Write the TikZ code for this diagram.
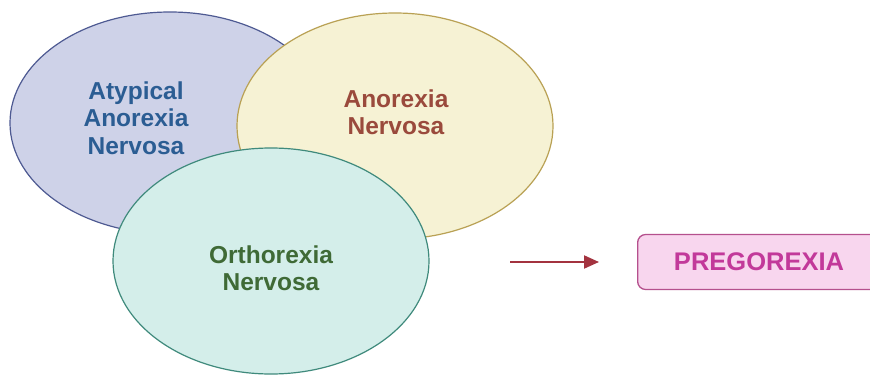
\documentclass[tikz,border=0pt]{standalone}
\usepackage{fontspec}
\setmainfont{Liberation Sans}
\usetikzlibrary{arrows.meta,shapes.geometric}
\definecolor{lavfill}{HTML}{CED2E8}
\definecolor{lavdraw}{HTML}{4E5A92}
\definecolor{yelfill}{HTML}{F6F2D4}
\definecolor{yeldraw}{HTML}{B9A154}
\definecolor{grnfill}{HTML}{D4EEEA}
\definecolor{grndraw}{HTML}{3F8A7C}
\definecolor{bluetxt}{HTML}{2B5D93}
\definecolor{browntxt}{HTML}{9A4A3C}
\definecolor{greentxt}{HTML}{3F6A36}
\definecolor{arrowred}{HTML}{A3333F}
\definecolor{pinkfill}{HTML}{F8D6EE}
\definecolor{pinkdraw}{HTML}{B5508D}
\definecolor{pinktxt}{HTML}{C2399A}
\tikzset{
  blob/.style={ellipse, line width=1.2pt, minimum width=320pt, minimum height=222pt, inner sep=0pt},
  lbl/.style={font=\fontsize{24.5}{27.5}\selectfont\bfseries, align=center},
  pbox/.style={draw=pinkdraw, fill=pinkfill, line width=1.3pt, rounded corners=8pt, minimum height=55pt, minimum width=300pt, inner sep=0pt},
}
\begin{document}
\begin{tikzpicture}[x=1pt,y=-1pt]
\useasboundingbox (0,0) rectangle (870,377);
\begin{scope}
\clip (0,0) rectangle (870,377);
\fill[white] (0,0) rectangle (870,377);
\node[blob, draw=lavdraw, fill=lavfill] (atyp) at (170,123) {};
\node[blob, draw=yeldraw, fill=yelfill, minimum width=316pt, minimum height=226pt] (anor) at (395,126) {};
\node[blob, draw=grndraw, fill=grnfill, minimum width=316pt, minimum height=226pt] (orth) at (271,261) {};
\node[lbl, text=bluetxt] (atyptxt) at (136,118) {Atypical\\Anorexia\\Nervosa};
\node[lbl, text=browntxt] (anortxt) at (396,112) {Anorexia\\Nervosa};
\node[lbl, text=greentxt] (orthtxt) at (271,268) {Orthorexia\\Nervosa};
\node[pbox, anchor=west] (preg) at (637,262) {};
\node[font=\fontsize{25.5}{28}\selectfont\bfseries, text=pinktxt] (pregtxt) at (759,262) {PREGOREXIA};
\coordinate (astart) at (510,262);
\coordinate (aend) at (599,262);
\draw[arrowred, line width=2pt, -{Triangle[length=15pt,width=13pt]}] (astart) -- (aend);
\end{scope}
\end{tikzpicture}
\end{document}
